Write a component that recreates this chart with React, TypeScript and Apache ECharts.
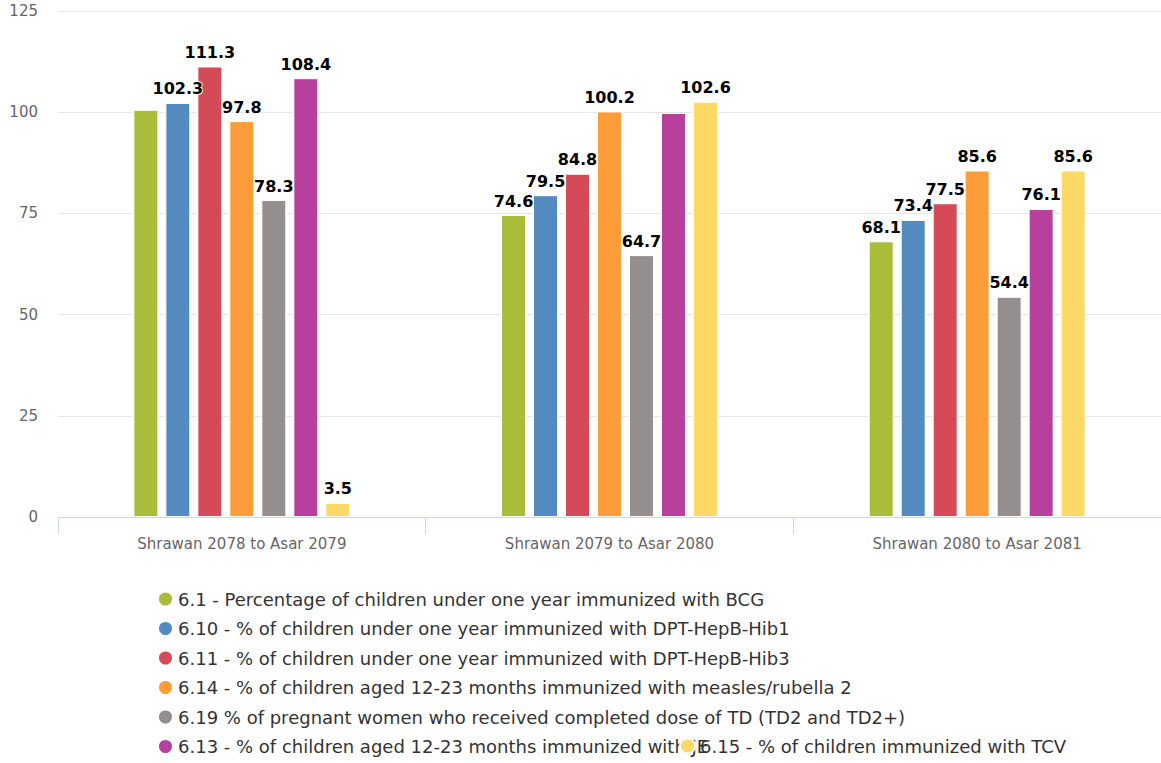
import React, { useEffect, useRef } from "react";
import * as echarts from "echarts";

const categories = ["Shrawan 2078 to Asar 2079", "Shrawan 2079 to Asar 2080", "Shrawan 2080 to Asar 2081"];
const seriesNames = [
  "6.1 - Percentage of children under one year immunized with BCG",
  "6.10 - % of children under one year immunized with DPT-HepB-Hib1",
  "6.11 - % of children under one year immunized with DPT-HepB-Hib3",
  "6.14 - % of children aged 12-23 months immunized with measles/rubella 2",
  "6.19 % of pregnant women who received completed dose of TD (TD2 and TD2+)",
  "6.13 - % of children aged 12-23 months immunized with JE",
  "6.15 - % of children immunized with TCV",
];
const bcg = [100.6, 74.6, 68.1];
const dpt1 = [102.3, 79.5, 73.4];
const dpt3 = [111.3, 84.8, 77.5];
const mr2 = [97.8, 100.2, 85.6];
const td = [78.3, 64.7, 54.4];
const je = [108.4, 99.8, 76.1];
const tcv = [3.5, 102.6, 85.6];
const seriesValues = [bcg, dpt1, dpt3, mr2, td, je, tcv];
// labels hidden in the reference because of overlap: [seriesIndex, categoryIndex]
const hiddenLabels = [[0, 0], [5, 1]];
const yTicks = [0, 25, 50, 75, 100, 125];
const colors = ["#aabd3b", "#538bc1", "#d44a57", "#fd9d3a", "#958e8e", "#b6409c", "#fed965"];

export default function App() {
  const ref = useRef<HTMLDivElement>(null);
  useEffect(() => {
    const chart = echarts.init(ref.current!, null, { renderer: "svg" });
    const font = "DejaVu Sans";
    const series = seriesValues.map((vals, si) => ({
      type: "bar",
      name: seriesNames[si],
      barGap: "28%",
      barCategoryGap: "41%",
      itemStyle: { color: colors[si], borderColor: "#ffffff", borderWidth: 1 },
      label: {
        show: true,
        position: "top",
        distance: 6,
        fontFamily: font,
        fontWeight: "bold",
        fontSize: 16,
        color: "#000000",
        textBorderColor: "#ffffff",
        textBorderWidth: 2,
      },
      data: vals.map((v, ci) => {
        const hide = hiddenLabels.some(([s, c]) => s === si && c === ci);
        return hide ? { value: v, label: { show: false } } : v;
      }),
    }));
    const legendText = { color: "#333333", fontFamily: font, fontSize: 18, lineHeight: 18 };
    chart.setOption({
      animation: false,
      color: colors,
      grid: { left: 58, right: -2, top: 11, bottom: 246, containLabel: false },
      xAxis: {
        type: "category",
        data: categories,
        axisLine: { lineStyle: { color: "#ccd6eb" } },
        axisTick: { show: true, length: 17, lineStyle: { color: "#ccd6eb" } },
        axisLabel: { color: "#666666", fontFamily: font, fontSize: 15, margin: 19 },
      },
      yAxis: {
        type: "value",
        min: yTicks[0],
        max: yTicks[yTicks.length - 1],
        interval: 25,
        axisLine: { show: false },
        axisTick: { show: false },
        axisLabel: { color: "#666666", fontFamily: font, fontSize: 15, margin: 20 },
        splitLine: { lineStyle: { color: "#e6e6e6" } },
      },
      legend: [
        {
          orient: "vertical",
          left: 152,
          top: 585,
          height: 300,
          data: seriesNames.slice(0, 6),
          icon: "circle",
          itemWidth: 15,
          itemHeight: 15,
          itemGap: 11.5,
          textStyle: legendText,
        },
        {
          orient: "vertical",
          left: 674,
          top: 732,
          data: seriesNames.slice(6),
          icon: "circle",
          itemWidth: 15,
          itemHeight: 15,
          textStyle: legendText,
        },
      ],
      series,
    });
    return () => chart.dispose();
  }, []);
  return (
    <div
      ref={ref}
      style={{ position: "fixed", left: 0, top: 0, width: 1161, height: 763, background: "#ffffff" }}
    />
  );
}
